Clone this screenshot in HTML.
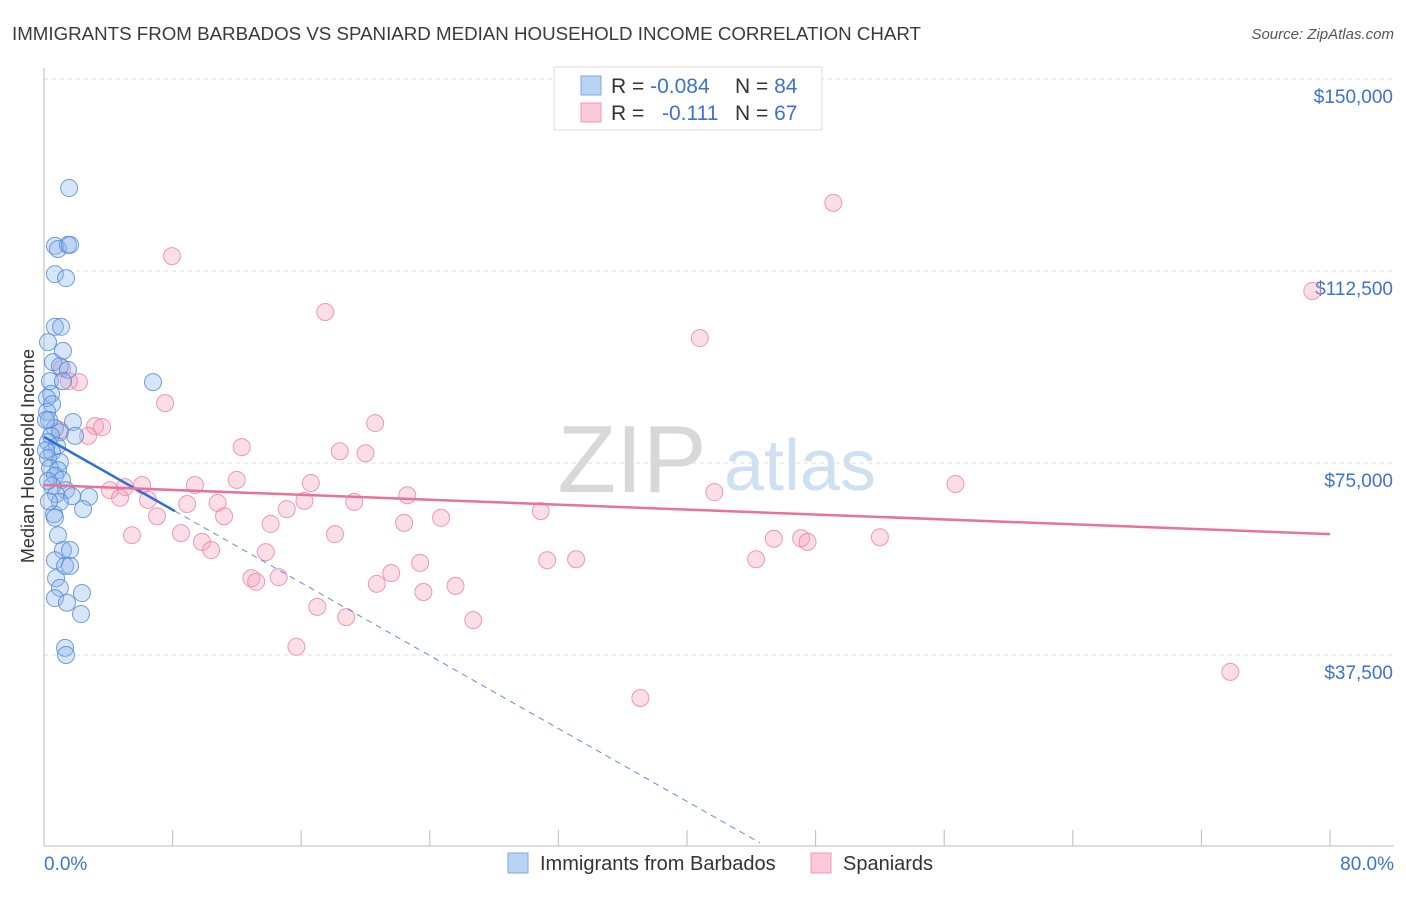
<!DOCTYPE html>
<html><head><meta charset="utf-8"><style>
body{margin:0;background:#fff;font-family:"Liberation Sans",sans-serif;}
svg text{font-family:"Liberation Sans",sans-serif;}
</style></head><body>
<svg id="chart" width="1406" height="892" xmlns="http://www.w3.org/2000/svg">
<text x="12" y="40" font-size="18" fill="#3a3a3a" textLength="909" lengthAdjust="spacingAndGlyphs">IMMIGRANTS FROM BARBADOS VS SPANIARD MEDIAN HOUSEHOLD INCOME CORRELATION CHART</text>
<text x="1394" y="39" font-size="15" fill="#555" text-anchor="end" font-style="italic">Source: ZipAtlas.com</text>
<g>
<text x="632" y="492" font-size="96" fill="#d8d8d8" text-anchor="middle" font-family="Liberation Serif, serif">ZIP</text>
<text x="800" y="490" font-size="72" fill="#cfe0f3" text-anchor="middle">atlas</text>
</g>
<g id="grid"></g><g id="axes"></g><g id="marks"></g>
<text transform="translate(34,456) rotate(-90)" font-size="18" fill="#333" text-anchor="middle">Median Household Income</text>
<g>
<rect x="554" y="67" width="268" height="63" fill="#fff" stroke="#ddd"/>
<rect x="581" y="76" width="20" height="19" fill="#b9d3f5" stroke="#7ea9e6"/>
<rect x="581" y="103" width="20" height="19" fill="#fbc9d7" stroke="#f09ab2"/>
<text x="611" y="93" font-size="21" fill="#333">R = <tspan fill="#3b73d1">-0.084</tspan></text>
<text x="735" y="93" font-size="21" fill="#333">N = <tspan fill="#3b73d1">84</tspan></text>
<text x="611" y="120" font-size="21" fill="#333">R = </text>
<text x="662" y="120" font-size="21" fill="#3b73d1">-0.111</text>
<text x="735" y="120" font-size="21" fill="#333">N = <tspan fill="#3b73d1">67</tspan></text>
</g>
<g>
<rect x="508" y="853" width="20" height="20" fill="#b9d3f5" stroke="#7ea9e6"/>
<text x="540" y="870" font-size="20" fill="#333">Immigrants from Barbados</text>
<rect x="811" y="853" width="20" height="20" fill="#fbc9d7" stroke="#f09ab2"/>
<text x="843" y="870" font-size="20" fill="#333">Spaniards</text>
</g>
</svg>
<script>
const yTicks=[37500,75000,112500,150000];
const yTickLabels=["$37,500","$75,000","$112,500","$150,000"];
const xTickValues=[0,8,16,24,32,40,48,56,64,72,80];
const xEndLabels=["0.0%","80.0%"];
const blueX=[1.56,0.68,0.87,1.49,1.62,0.68,1.37,0.68,1.06,0.25,1.18,0.56,0.99,1.49,0.37,1.18,6.78,0.44,0.19,0.5,0.19,0.31,1.8,0.68,0.99,0.44,1.93,0.25,0.81,0.5,0.25,0.99,0.37,0.87,0.68,1.12,0.5,1.37,0.75,1.74,2.8,0.99,2.43,0.62,0.68,0.87,1.18,1.62,0.68,1.31,1.62,0.75,0.99,2.36,0.68,1.43,2.3,1.31,1.37,0.12,0.12,0.25,0.31];
const blueY=[128.7,117.4,116.8,117.6,117.6,111.9,111.1,101.6,101.6,98.6,96.9,94.7,93.9,93.2,91,91,90.8,88.5,87.7,86.5,85,83.4,83,81.8,81,80.3,80.3,79.1,78.3,77.1,76,75.2,74,73.6,72.5,71.7,70.5,69.7,68.9,68.5,68.4,67.4,66,65,64.3,60.9,58,58,56,54.9,54.9,52.5,50.6,49.6,48.6,47.7,45.5,38.9,37.5,83.4,77.5,71.5,67.5];
const pinkX=[7.96,49.1,78.9,17.5,40.8,1.12,2.18,1.55,7.53,20.6,3.18,3.61,0.99,2.74,12.3,18.4,20,56.7,11.99,16.6,6.1,5.04,9.39,4.1,41.7,22.6,4.73,6.47,16.2,19.3,8.9,10.8,15.1,30.9,7.03,11.2,24.7,22.4,14.1,8.52,18.1,5.47,52,45.4,47.1,47.5,9.83,10.4,13.8,31.3,33.1,44.3,23.4,21.6,12.9,14.6,13.2,20.7,25.6,23.6,17,18.8,26.7,15.7,73.8,37.1];
const pinkY=[115.4,125.8,108.6,104.5,99.4,93.5,90.8,91,86.7,82.8,82.2,82,81.4,80.3,78.1,77.3,76.9,70.9,71.7,71.1,70.7,70.3,70.7,69.7,69.3,68.7,68.2,67.8,67.6,67.4,67,67.2,66,65.6,64.6,64.6,64.3,63.3,63.1,61.3,61.1,60.9,60.5,60.2,60.3,59.6,59.6,58,57.6,56,56.2,56.2,55.5,53.5,52.5,52.7,51.8,51.4,51,49.8,46.9,44.9,44.3,39.1,34.2,29.1];
const blueTrend=[80.1,-1.78];
const pinkTrend=[70.7,-0.12];
const X=v=>44+v*(1286/80);
const Y=k=>847-k*1000*192/37500;
const NS="http://www.w3.org/2000/svg";
function mk(p,t,a){const e=document.createElementNS(NS,t);for(const k in a)e.setAttribute(k,a[k]);p.appendChild(e);return e;}
const grid=document.getElementById('grid'),axes=document.getElementById('axes'),marks=document.getElementById('marks');
yTicks.forEach((t,i)=>{
 const l=mk(grid,'line',{x1:44,x2:1394,y1:Y(t/1000),y2:Y(t/1000),stroke:'#ddd','stroke-dasharray':'4,4'});
 
 
 const tx=mk(axes,'text',{x:1393,y:Y(t/1000)+24,'font-size':19,fill:'#3b73d1','text-anchor':'end'});
 tx.textContent=yTickLabels[i];
 
 
});
const tl=mk(grid,'line',{x1:44,x2:1394,y1:79,y2:79,stroke:'#ddd','stroke-dasharray':'4,4'});


const ya=mk(axes,'line',{x1:44,x2:44,y1:68,y2:846,stroke:'#bbb'});


const xa=mk(axes,'line',{x1:44,x2:1394,y1:846,y2:846,stroke:'#bbb'});


xTickValues.forEach(v=>{
 const t=mk(axes,'line',{x1:X(v),x2:X(v),y1:830,y2:846,stroke:'#bbb'});
 
 
});
[[0,'start',44],[80,'end',1394]].forEach((d,i)=>{
 const t=mk(axes,'text',{x:d[2],y:870,'font-size':19,fill:'#3b73d1','text-anchor':d[1]});
 t.textContent=xEndLabels[i];
 
 
});
pinkX.forEach((x,i)=>{
 const c=mk(marks,'circle',{cx:X(x),cy:Y(pinkY[i]),r:8.5,fill:'rgba(246,160,185,0.35)',stroke:'rgba(236,130,160,0.8)','stroke-width':1});
 
 
});
blueX.forEach((x,i)=>{
 const c=mk(marks,'circle',{cx:X(x),cy:Y(blueY[i]),r:8.5,fill:'rgba(140,180,235,0.35)',stroke:'rgba(80,135,215,0.8)','stroke-width':1});
 
 
});
const f=(tr,x)=>tr[0]+tr[1]*x;
const bs=mk(marks,'line',{x1:X(0),y1:Y(f(blueTrend,0)),x2:X(8.15),y2:Y(f(blueTrend,8.15)),stroke:'#2f6fd6','stroke-width':2.5});


const xe=(blueTrend[0]-0.8)/-blueTrend[1];
const bd=mk(marks,'line',{x1:X(8.15),y1:Y(f(blueTrend,8.15)),x2:X(xe),y2:Y(f(blueTrend,xe)),stroke:'#5b8fe0','stroke-width':1,'stroke-dasharray':'6,5'});


const pt=mk(marks,'line',{x1:X(0),y1:Y(f(pinkTrend,0)),x2:X(80),y2:Y(f(pinkTrend,80)),stroke:'#e8729a','stroke-width':2.5});


</script>
</body></html>
